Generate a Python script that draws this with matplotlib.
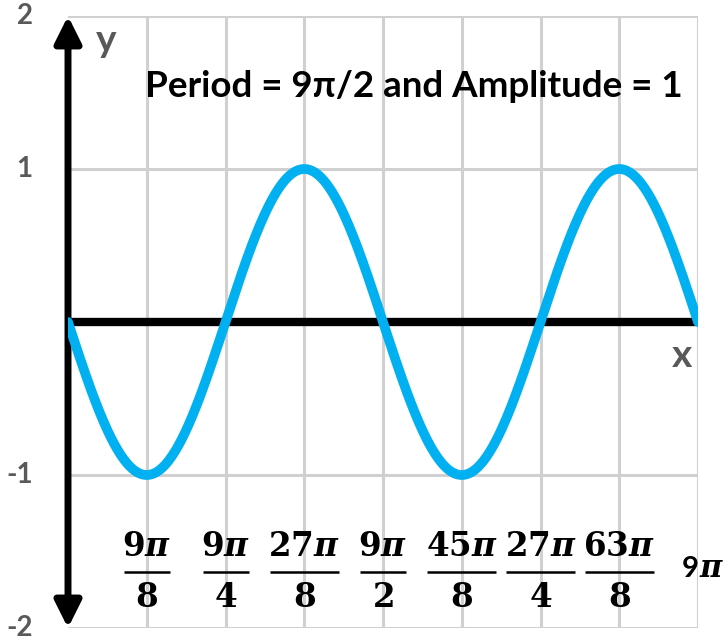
import numpy as np
import matplotlib
matplotlib.use("Agg")
import matplotlib.pyplot as plt

# function parameters shown in the title
PERIOD = 9 * np.pi / 2
AMPLITUDE = 1

# x tick labels (fractions of pi), at multiples of 9*pi/8
tick_numerators = ["9", "9", "27", "9", "45", "27", "63"]
tick_denominators = ["8", "4", "8", "2", "8", "4", "8"]
tick_positions = [9 * np.pi / 8 * k for k in range(1, 8)]
x_max = 9 * np.pi

y_ticks = [2, 1, -1, -2]
y_tick_labels = ["2", "1", "-1", "-2"]

BLUE = "#00B0F0"
GRAY = "#595959"
GRID = "#D0D0D0"

plt.rcParams["mathtext.fontset"] = "dejavuserif"

fig = plt.figure(figsize=(7.25, 6.44), dpi=100)
ax = fig.add_axes([68 / 725, 16 / 644, 630 / 725, 612 / 644])
ax.set_xlim(0, x_max)
ax.set_ylim(-2, 2)
px = x_max / 630  # data units per pixel along x

# grid
for xv in tick_positions + [x_max]:
    ax.axvline(xv, color=GRID, lw=2.2, zorder=0)
for yv in [2, 1, -1, -2]:
    ax.axhline(yv, color=GRID, lw=2.2, zorder=0)

for s in ax.spines.values():
    s.set_visible(False)
ax.set_xticks([])
ax.set_yticks([])

# x axis
ax.plot([0, x_max], [0, 0], color="black", lw=6, zorder=2, solid_capstyle="butt")
# y axis with arrows both ends
ax.annotate("", xy=(0, 2), xytext=(0, -2),
            arrowprops=dict(arrowstyle="<|-|>", lw=5, color="black",
                            mutation_scale=40, shrinkA=0, shrinkB=0),
            annotation_clip=False, zorder=3)

# the curve
x = np.linspace(0, x_max, 600)
y = -AMPLITUDE * np.sin(2 * np.pi * x / PERIOD)
ax.plot(x, y, color=BLUE, lw=7, zorder=4, solid_capstyle="round")

# y tick labels
for yv, lab in zip(y_ticks, y_tick_labels):
    ax.text(-0.056, yv, lab, transform=ax.get_yaxis_transform(), ha="right",
            va="center", fontsize=20, fontweight="bold", color=GRAY,
            family="Lato")

# x tick labels as stacked fractions
for xv, n, d in zip(tick_positions, tick_numerators, tick_denominators):
    ax.text(xv, -1.47, r"$\mathbf{%s}\boldsymbol{\pi}$" % n, ha="center",
            va="center", fontsize=23.5, color="black")
    half = 11.5 * (len(n) + 1) * px
    ax.plot([xv - half, xv + half], [-1.634, -1.634], color="black", lw=1.8,
            solid_capstyle="butt")
    ax.text(xv, -1.80, r"$\mathbf{%s}$" % d, ha="center", va="center",
            fontsize=23.5, color="black")
# last label "9π" (sans 9, italic pi), sitting on a common baseline
ax.text(x_max + 1 * px, -1.667, "9", ha="right", va="baseline", fontsize=21,
        fontweight="bold", family="Lato", color="black", clip_on=False)
ax.text(x_max + 1 * px, -1.667, r"$\boldsymbol{\pi}$", ha="left",
        va="baseline", fontsize=22, color="black", clip_on=False)

ax.text(1.7, 1.84, "y", fontsize=28, fontweight="bold", color=GRAY,
        family="Lato", ha="center", va="center")
ax.text(x_max - 0.71, -0.216, "x", fontsize=28, fontweight="bold", color=GRAY,
        family="Lato", ha="center", va="center")

ax.text(15.53, 1.54, "Period = 9π/2 and Amplitude = 1", fontsize=26.5,
        fontweight="bold", color="black", family="Lato", ha="center",
        va="center")

fig.savefig("out.png", dpi=100)
